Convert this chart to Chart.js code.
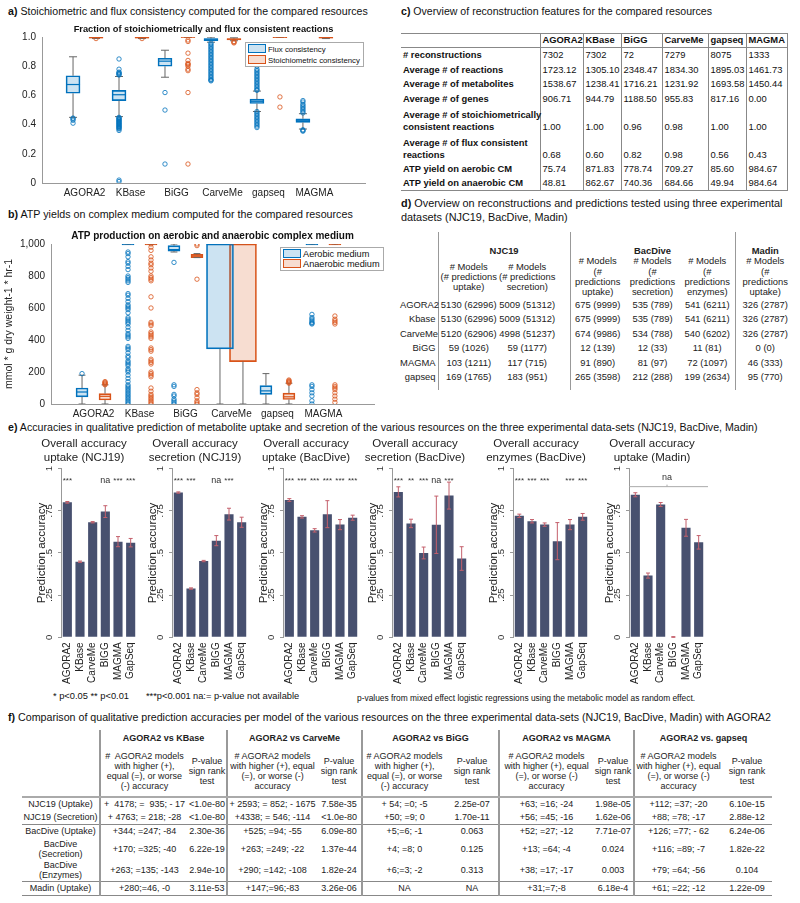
<!DOCTYPE html>
<html>
<head>
<meta charset="utf-8">
<script src="https://cdn.jsdelivr.net/npm/chart.js@4.4.0/dist/chart.umd.min.js"></script>
<style>
body{margin:0;width:800px;height:903px;position:relative;background:#fff;font-family:"Liberation Sans",Arial,sans-serif;color:#111;overflow:hidden}
canvas{position:absolute}
.pt{position:absolute;font-size:11px;line-height:13px;white-space:nowrap}
.lg{position:absolute;background:#fff;border:1px solid #aaa;font-size:8.5px;line-height:10px;padding:1px 3px 1px 2px;white-space:nowrap}
.lg span{display:inline-block;width:16px;height:7px;margin-right:2px;vertical-align:-1px}
.note{position:absolute;white-space:nowrap;font-size:9.3px}
table{position:absolute;border-collapse:collapse;table-layout:fixed}
#tc{left:401px;top:33px;width:386px;font-size:9.4px;line-height:12px;border-top:1px solid #888;border-bottom:1px solid #888}
#tc td{border-right:1px solid #888;padding:0 0 1px 2px;vertical-align:bottom;white-space:nowrap;overflow:visible}
#tc tr:first-child td{border-bottom:1px solid #888}
#td{left:400px;top:232px;width:395px;font-size:9.4px;line-height:10.3px;color:#222}
#td td{text-align:center;white-space:nowrap;padding:0;vertical-align:middle}
#td td.rh{text-align:right;padding-right:2px}
#td td.vl{border-left:1px solid #999}
#tf{left:22px;top:730px;width:750px;font-size:9px;line-height:10px;color:#222}
#tf td{text-align:center;white-space:nowrap;padding:0;vertical-align:middle}
#tf td.vl{border-left:2px solid #999}
#tf tr.hb td{border-bottom:2px solid #aaa}
#tf tr.sb td{border-bottom:1px solid #888}
</style>
</head>
<body>

<div class="pt" id="ta" data-right="368" style="left:8px;top:5px"><span><b>a)</b> Stoichiometric and flux consistency computed for the compared resources</span></div>
<div class="pt" id="tb" data-right="353" style="left:8px;top:208px"><span><b>b)</b> ATP yields on complex medium computed for the compared resources</span></div>
<div class="pt" id="tcT" data-right="712" style="left:401px;top:5px"><span><b>c)</b> Overview of reconstruction features for the compared resources</span></div>
<div class="pt" id="tdT" data-right="783" style="left:401px;top:196px;line-height:14px"><span><b>d)</b> Overview on reconstructions and predictions tested using three experimental</span><br>datasets (NJC19, BacDive, Madin)</div>
<div class="pt" id="te" data-right="758" style="left:8px;top:421px"><span><b>e)</b> Accuracies in qualitative prediction of metabolite uptake and secretion of the various resources on the three experimental data-sets (NJC19, BacDive, Madin)</span></div>
<div class="pt" id="tfT" data-right="772" style="left:8px;top:711px"><span><b>f)</b> Comparison of qualitative prediction accuracies per model of the various resources on the three experimental data-sets (NJC19, BacDive, Madin) with AGORA2</span></div>

<canvas id="chartA" width="400" height="181" style="left:0;top:22px"></canvas>
<canvas id="chartB" width="400" height="196" style="left:0;top:228px"></canvas>

<div class="lg" style="left:245px;top:42px;font-size:7.8px;line-height:9.5px">
  <div><span style="background:rgba(0,114,189,0.2);border:1px solid #0072bd"></span>Flux consistency</div>
  <div><span style="background:rgba(217,83,25,0.2);border:1px solid #d95319"></span>Stoichiometric consistency</div>
</div>
<div class="lg" style="left:280px;top:247px;font-size:9.2px;line-height:10px">
  <div><span style="background:rgba(0,114,189,0.2);border:1px solid #0072bd"></span>Aerobic medium</div>
  <div><span style="background:rgba(217,83,25,0.2);border:1px solid #d95319"></span>Anaerobic medium</div>
</div>

<table id="tc"></table>
<table id="td"></table>

<canvas id="e1" width="136" height="252" style="left:31px;top:437px"></canvas>
<canvas id="e2" width="136" height="252" style="left:142px;top:437px"></canvas>
<canvas id="e3" width="136" height="252" style="left:253px;top:437px"></canvas>
<canvas id="e4" width="136" height="252" style="left:362px;top:437px"></canvas>
<canvas id="e5" width="136" height="252" style="left:483px;top:437px"></canvas>
<canvas id="e6" width="136" height="252" style="left:599px;top:437px"></canvas>

<div class="note" style="left:53px;top:691px">* p&lt;0.05 ** p&lt;0.01</div>
<div class="note" style="left:146px;top:691px">***p&lt;0.001</div>
<div class="note" style="left:193px;top:691px">na:= p-value not available</div>
<div class="note" style="left:357px;top:693px;font-size:8.4px">p-values from mixed effect logistic regressions using the metabolic model as random effect.</div>

<table id="tf"></table>

<script>
// ---- panel a / b : box plot data ----
const resources = ['AGORA2', 'KBase', 'BiGG', 'CarveMe', 'gapseq', 'MAGMA'];

const fluxLo  = [0.45, 0.455, 0.725, 0.965, 0.49, 0.37];
const fluxQ1  = [0.615, 0.565, 0.80, 0.975, 0.545, 0.415];
const fluxMed = [0.675, 0.605, 0.835, 0.985, 0.56, 0.43];
const fluxQ3  = [0.735, 0.635, 0.855, 0.99, 0.575, 0.44];
const fluxHi  = [0.865, 0.73, 0.91, 1.0, 0.63, 0.475];
const fluxOut = [
  [0.41, 0.43, 0.44, 0.445],
  [0.01, 0.02, 0.36, 0.37, 0.375, 0.38, 0.385, 0.39, 0.395, 0.40, 0.405, 0.41, 0.415, 0.42, 0.425, 0.43, 0.435, 0.44, 0.445, 0.45, 0.74, 0.745, 0.75, 0.755, 0.76, 0.78, 0.85],
  [0.13, 0.50, 0.62],
  [0.70, 0.705, 0.71, 0.72, 0.73, 0.74, 0.75, 0.76, 0.77, 0.78, 0.79, 0.80, 0.81, 0.82, 0.83, 0.84, 0.85, 0.86, 0.87, 0.88, 0.89, 0.90, 0.91, 0.92, 0.93, 0.94, 0.95, 0.96],
  [0.38, 0.39, 0.40, 0.41, 0.42, 0.43, 0.44, 0.45, 0.46, 0.47, 0.48, 0.49, 0.635, 0.64, 0.65, 0.66, 0.67, 0.68, 0.69, 0.70, 0.71, 0.72, 0.73, 0.74, 0.75, 0.76, 0.77, 0.78, 0.80, 0.82, 0.84],
  [0.355, 0.36, 0.365, 0.48, 0.49, 0.50, 0.51, 0.52, 0.53, 0.54, 0.555, 0.565]
];

const stoLo  = [0.99, 0.99, 1.0, 0.975, 1.0, 0.99];
const stoQ1  = [0.993, 0.993, 0.997, 0.98, 0.996, 0.993];
const stoMed = [0.997, 0.997, 1.0, 0.985, 1.0, 0.997];
const stoQ3  = [1.0, 1.0, 1.0, 0.99, 1.0, 1.0];
const stoHi  = [1.0, 1.0, 1.0, 0.995, 1.0, 1.0];
const stoOut = [
  [0.99], [0.99],
  [0.13, 0.62, 0.77, 0.78, 0.80, 0.81, 0.815, 0.82, 0.84, 0.89, 0.97, 0.98],
  [0.96, 0.965, 0.97],
  [0.52, 0.59],
  []
];

const aerLo  = [0, 1000, 950, 0, 0, 1000];
const aerQ1  = [45, 994, 955, 345, 60, 994];
const aerMed = [75, 1000, 965, 1000, 82, 1000];
const aerQ3  = [100, 1000, 990, 1000, 115, 1000];
const aerHi  = [180, 1000, 1000, 1000, 190, 1000];
const aerOut = [
  [190],
  [0, 10, 20, 30, 40, 50, 60, 70, 80, 90, 100, 110, 120, 140, 160, 180, 200, 210, 220, 240, 250, 260, 270, 290, 300, 320, 340, 350, 360, 410, 420, 430, 440, 460, 480, 500, 510, 520, 530, 540, 570, 590, 600, 610, 620, 640, 660, 680, 690, 760, 770, 780, 790, 800, 840, 860, 880, 890, 920, 940, 950],
  [0, 10, 20, 30, 50, 60, 110, 120, 885],
  [],
  [],
  [0, 20, 50, 70, 90, 110, 120, 500, 505, 510, 520, 530, 540, 560]
];

const anaLo  = [0, 1000, 915, 0, 0, 1000];
const anaQ1  = [25, 994, 915, 265, 28, 994];
const anaMed = [48, 1000, 925, 1000, 45, 1000];
const anaQ3  = [65, 1000, 935, 1000, 68, 1000];
const anaHi  = [120, 1000, 940, 1000, 130, 1000];
const anaOut = [
  [120, 125, 130, 135, 140],
  [0, 10, 20, 30, 40, 50, 60, 80, 100, 170, 180, 190, 200, 250, 260, 270, 280, 330, 340, 350, 410, 420, 430, 440, 450, 490, 500, 510, 600, 670, 770, 780, 790, 800, 830, 850, 870, 880, 900, 920, 960, 980, 1000],
  [0, 10, 20, 40, 60, 70, 90, 780, 990, 1000],
  [],
  [130, 135, 140, 145, 150],
  [10, 30, 50, 70, 90, 100, 110, 120, 500, 510, 520, 530, 550]
];

// ---- panel e : accuracies ----
const accModels = ['AGORA2', 'KBase', 'CarveMe', 'BIGG', 'MAGMA', 'GapSeq'];
const accNjcUp   = [0.80, 0.448, 0.682, 0.745, 0.567, 0.561];
const errNjcUp   = [0.005, 0.004, 0.004, 0.035, 0.03, 0.025];
const sigNjcUp   = ['***', '', '', 'na', '***', '***'];
const accNjcSec  = [0.858, 0.289, 0.452, 0.573, 0.73, 0.682];
const errNjcSec  = [0.004, 0.004, 0.004, 0.03, 0.035, 0.03];
const sigNjcSec  = ['***', '***', '', 'na', '***', ''];
const accBacUp   = [0.814, 0.714, 0.634, 0.73, 0.668, 0.709];
const errBacUp   = [0.008, 0.007, 0.01, 0.08, 0.03, 0.015];
const sigBacUp   = ['***', '***', '***', '***', '***', '***'];
const accBacSec  = [0.862, 0.675, 0.50, 0.667, 0.84, 0.467];
const errBacSec  = [0.03, 0.025, 0.035, 0.17, 0.08, 0.07];
const sigBacSec  = ['***', '**', '***', 'na', '***', ''];
const accBacEnz  = [0.72, 0.688, 0.668, 0.57, 0.668, 0.714];
const errBacEnz  = [0.01, 0.01, 0.01, 0.11, 0.03, 0.02];
const sigBacEnz  = ['***', '***', '***', '', '***', '***'];
const accMadin   = [0.845, 0.366, 0.787, 0, 0.649, 0.563];
const errMadin   = [0.012, 0.015, 0.012, 0.004, 0.05, 0.04];
const sigMadin   = ['', '', '', '', '', ''];

// ---- tables ----
const tcHead = ['', 'AGORA2', 'KBase', 'BiGG', 'CarveMe', 'gapseq', 'MAGMA'];
const tcRows = [
  ['# reconstructions', '7302', '7302', '72', '7279', '8075', '1333'],
  ['Average # of reactions', '1723.12', '1305.10', '2348.47', '1834.30', '1895.03', '1461.73'],
  ['Average # of metabolites', '1538.67', '1238.41', '1716.21', '1231.92', '1693.58', '1450.44'],
  ['Average # of genes', '906.71', '944.79', '1188.50', '955.83', '817.16', '0.00'],
  ['Average # of stoichiometrically<br>consistent reactions', '1.00', '1.00', '0.96', '0.98', '1.00', '1.00'],
  ['Average # of flux consistent<br>reactions', '0.68', '0.60', '0.82', '0.98', '0.56', '0.43'],
  ['ATP yield on aerobic CM', '75.74', '871.83', '778.74', '709.27', '85.60', '984.67'],
  ['ATP yield on anaerobic CM', '48.81', '862.67', '740.36', '684.66', '49.94', '984.64']
];

const tdGroups = ['NJC19', 'BacDive', 'Madin'];
const tdSub = ['# Models<br>(# predictions<br>uptake)', '# Models<br>(# predictions<br>secretion)',
  '# Models<br>(#<br>predictions<br>uptake)', '# Models<br>(#<br>predictions<br>secretion)',
  '# Models<br>(#<br>predictions<br>enzymes)', '# Models<br>(#<br>predictions<br>uptake)'];
const tdRows = [
  ['AGORA2', '5130 (62996)', '5009 (51312)', '675 (9999)', '535 (789)', '541 (6211)', '326 (2787)'],
  ['Kbase', '5130 (62996)', '5009 (51312)', '675 (9999)', '535 (789)', '541 (6211)', '326 (2787)'],
  ['CarveMe', '5120 (62906)', '4998 (51237)', '674 (9986)', '534 (788)', '540 (6202)', '326 (2787)'],
  ['BiGG', '59 (1026)', '59 (1177)', '12 (139)', '12 (33)', '11 (81)', '0 (0)'],
  ['MAGMA', '103 (1211)', '117 (715)', '91 (890)', '81 (97)', '72 (1097)', '46 (333)'],
  ['gapseq', '169 (1765)', '183 (951)', '265 (3598)', '212 (288)', '199 (2634)', '95 (770)']
];

const tfGroups = ['AGORA2 vs KBase', 'AGORA2 vs CarveMe', 'AGORA2 vs BiGG', 'AGORA2 vs MAGMA', 'AGORA2 vs. gapseq'];
const tfCountHead = [
  '#&nbsp; AGORA2 models<br>with higher (+),<br>equal (=), or worse<br>(-) accuracy',
  '# AGORA2 models<br>with higher (+), equal<br>(=), or worse (-)<br>accuracy',
  '# AGORA2 models<br>with higher (+),<br>equal (=), or worse<br>(-) accuracy',
  '# AGORA2 models<br>with higher (+), equal<br>(=), or worse (-)<br>accuracy',
  '# AGORA2 models<br>with higher (+), equal<br>(=), or worse (-)<br>accuracy'];
const tfRows = [
  ['NJC19 (Uptake)', '+&nbsp; 4178; =&nbsp; 935; - 17', '&lt;1.0e-80', '+ 2593; = 852; - 1675', '7.58e-35', '+ 54; =0; -5', '2.25e-07', '+63; =16; -24', '1.98e-05', '+112; =37; -20', '6.10e-15'],
  ['NJC19 (Secretion)', '+ 4763; = 218; -28', '&lt;1.0e-80', '+4338; = 546; -114', '&lt;1.0e-80', '+50; =9; 0', '1.70e-11', '+56; =45; -16', '1.62e-06', '+88; =78; -17', '2.88e-12'],
  ['BacDive (Uptake)', '+344; =247; -84', '2.30e-36', '+525; =94; -55', '6.09e-80', '+5;=6; -1', '0.063', '+52; =27; -12', '7.71e-07', '+126; =77; - 62', '6.24e-06'],
  ['BacDive<br>(Secretion)', '+170; =325; -40', '6.22e-19', '+263; =249; -22', '1.37e-44', '+4; =8; 0', '0.125', '+13; =64; -4', '0.024', '+116; =89; -7', '1.82e-22'],
  ['BacDive<br>(Enzymes)', '+263; =135; -143', '2.94e-10', '+290; =142; -108', '1.82e-24', '+6;=3; -2', '0.313', '+38; =17; -17', '0.003', '+79; =64; -56', '0.104'],
  ['Madin (Uptake)', '+280;=46, -0', '3.11e-53', '+147;=96;-83', '3.26e-06', 'NA', 'NA', '+31;=7;-8', '6.18e-4', '+61; =22; -12', '1.22e-09']
];

// fit the panel headings to the width they take in the figure
document.querySelectorAll('.pt[data-right]').forEach(el => {
  const span = el.querySelector('span');
  const target = +el.dataset.right - el.offsetLeft;
  const size = 11 * target / span.getBoundingClientRect().width;
  el.style.fontSize = size.toFixed(2) + 'px';
});

// ---------- box plot helpers ----------
const BLUE = '#0072bd', ORANGE = '#d95319';
const BLUE_F = 'rgba(0,114,189,0.2)', ORANGE_F = 'rgba(217,83,25,0.2)';

function boxSets(lo, q1, med, q3, hi, out, shift, line, fill, thick, wideIdx) {
  const pos = lo.map((v, i) => 2 * i + 1 + shift);
  const whisk = [];
  pos.forEach((p, i) => {
    whisk.push({x: p, y: lo[i]}, {x: p, y: q1[i]}, {x: p, y: null},
               {x: p, y: q3[i]}, {x: p, y: hi[i]}, {x: p, y: null});
  });
  const outPts = [];
  out.forEach((arr, i) => arr.forEach(v => outPts.push({x: pos[i], y: v})));
  const boxData = (keep) => pos.map((p, i) => keep(i) ? {x: p, y: [q1[i], q3[i]]} : {x: p, y: null});
  const sets = [
    {type: 'bar', data: boxData(i => i !== wideIdx), backgroundColor: fill, borderColor: line,
     borderWidth: 1, barThickness: thick, grouped: false, borderSkipped: false, order: 6},
    {type: 'line', data: whisk, borderColor: '#666', borderWidth: 1, pointRadius: 0, spanGaps: false, order: 5},
    {type: 'scatter', data: pos.flatMap((p, i) => [{x: p, y: lo[i]}, {x: p, y: hi[i]}]),
     pointStyle: 'line', pointRadius: thick / 3.5, borderColor: '#666', borderWidth: 1, order: 4},
    {type: 'scatter', data: pos.map((p, i) => ({x: p, y: med[i]})), pointStyle: 'line',
     pointRadius: thick / 2, borderColor: line, borderWidth: 1.2, order: 1},
    {type: 'scatter', data: outPts, pointStyle: 'circle', pointRadius: 2.2, borderColor: line,
     backgroundColor: 'rgba(0,0,0,0)', borderWidth: 0.8, order: 2}
  ];
  if (wideIdx !== undefined) {
    sets.push({type: 'bar', data: boxData(i => i === wideIdx), backgroundColor: fill, borderColor: line,
      borderWidth: 1, barThickness: 27, grouped: false, borderSkipped: false, order: 6});
    sets.push({type: 'scatter', data: [{x: pos[wideIdx], y: med[wideIdx]}], pointStyle: 'line',
      pointRadius: 13.5, borderColor: line, borderWidth: 1.2, order: 1});
  }
  return sets;
}

function boxChart(id, title, titleSize, sets, yOpts, yWidth, padL, padR) {
  const catPos = resources.map((r, i) => 2 * i + 1.5);
  new Chart(document.getElementById(id), {
    type: 'bar',
    data: {datasets: sets},
    options: {
      animation: false, responsive: false, devicePixelRatio: 1,
      layout: {padding: {left: padL, right: padR, top: 0, bottom: 0}},
      plugins: {
        legend: {display: false}, tooltip: {enabled: false},
        title: {display: true, fullSize: false, text: title, color: '#111',
                font: {size: titleSize, weight: 'bold', family: 'Liberation Sans'},
                padding: {top: 2, bottom: 2}}
      },
      scales: {
        x: {
          type: 'linear', min: -0.35, max: 13.7, offset: false,
          grid: {display: false, drawTicks: false}, border: {display: true, color: '#999'},
          afterBuildTicks: s => { s.ticks = catPos.map(v => ({value: v})); },
          ticks: {autoSkip: false, maxRotation: 0, padding: 4, color: '#222',
                  font: {size: 10, family: 'Liberation Sans'},
                  callback: v => resources[catPos.indexOf(v)]},
          afterFit: s => { s.height = 20; }
        },
        y: Object.assign({
          grid: {display: false, drawTicks: false}, border: {display: true, color: '#999'},
          afterFit: s => { s.width = yWidth; }
        }, yOpts)
      }
    }
  });
}

boxChart('chartA', 'Fraction of stoichiometrically and flux consistent reactions', 9.25,
  boxSets(fluxLo, fluxQ1, fluxMed, fluxQ3, fluxHi, fluxOut, 0, BLUE, BLUE_F, 14)
    .concat(boxSets(stoLo, stoQ1, stoMed, stoQ3, stoHi, stoOut, 1, ORANGE, ORANGE_F, 14)),
  {min: 0, max: 1, ticks: {stepSize: 0.2, padding: 6, color: '#222', font: {size: 10, family: 'Liberation Sans'}}},
  30, 12, 35);

boxChart('chartB', 'ATP production on aerobic and anaerobic complex medium', 10,
  boxSets(aerLo, aerQ1, aerMed, aerQ3, aerHi, aerOut, 0, BLUE, BLUE_F, 12, 3)
    .concat(boxSets(anaLo, anaQ1, anaMed, anaQ3, anaHi, anaOut, 1, ORANGE, ORANGE_F, 12, 3)),
  {min: 0, max: 1000, ticks: {stepSize: 200, padding: 6, color: '#222', font: {size: 10, family: 'Liberation Sans'}},
   title: {display: true, text: 'mmol * g dry weight-1 * hr-1', color: '#222', font: {size: 10.5, family: 'Liberation Sans'},
           padding: {top: 3, bottom: 2}}},
  51, 0, 26);

// ---------- panel e ----------
const errorBars = {
  id: 'errorBars',
  afterDatasetsDraw(chart, args, o) {
    const {ctx, chartArea} = chart;
    const x = chart.scales.x, y = chart.scales.y;
    ctx.save();
    ctx.strokeStyle = '#c4606c';
    ctx.lineWidth = 1;
    o.vals.forEach((v, i) => {
      const px = x.getPixelForValue(i);
      const y1 = y.getPixelForValue(Math.max(0, v - o.errs[i]));
      const y2 = y.getPixelForValue(v + o.errs[i]);
      ctx.beginPath();
      ctx.moveTo(px, y1); ctx.lineTo(px, y2);
      ctx.moveTo(px - 2, y1); ctx.lineTo(px + 2, y1);
      ctx.moveTo(px - 2, y2); ctx.lineTo(px + 2, y2);
      ctx.stroke();
    });
    ctx.fillStyle = '#333';
    ctx.textAlign = 'center';
    ctx.textBaseline = 'middle';
    o.sig.forEach((s, i) => {
      if (!s) return;
      ctx.font = (s === 'na' ? '9px' : '8px') + ' "Liberation Sans"';
      ctx.fillText(s, x.getPixelForValue(i), y.getPixelForValue(0.93));
    });
    if (o.bracket) {
      const by = y.getPixelForValue(0.893);
      const cx = (chartArea.left + chartArea.right) / 2;
      ctx.strokeStyle = '#aaa';
      ctx.beginPath();
      ctx.moveTo(chartArea.left, by); ctx.lineTo(chartArea.right + 3, by);
      ctx.moveTo(cx, by); ctx.lineTo(cx, by - 2);
      ctx.stroke();
      ctx.font = '9px "Liberation Sans"';
      ctx.fillText(o.bracket, cx, y.getPixelForValue(0.95));
    }
    ctx.restore();
  }
};

function accChart(id, title, vals, errs, sig, bracket) {
  new Chart(document.getElementById(id), {
    type: 'bar',
    data: {labels: accModels, datasets: [{data: vals, backgroundColor: '#47506f', barPercentage: 0.72, categoryPercentage: 1}]},
    plugins: [errorBars],
    options: {
      animation: false, responsive: false, devicePixelRatio: 1,
      layout: {padding: {left: 0, right: 30, top: 0, bottom: 0}},
      plugins: {
        legend: {display: false}, tooltip: {enabled: false},
        title: {display: true, text: title, color: '#222', font: {size: 11.5, weight: 'normal', family: 'Liberation Sans'},
                lineHeight: 1.1, padding: {top: 0, bottom: 4}},
        errorBars: {vals: vals, errs: errs, sig: sig, bracket: bracket}
      },
      scales: {
        x: {
          grid: {display: false, drawTicks: false}, border: {display: false},
          ticks: {autoSkip: false, minRotation: 90, maxRotation: 90, padding: 5, color: '#222',
                  font: {size: 10, family: 'Liberation Sans'}}
        },
        y: {
          min: 0, max: 1,
          grid: {display: true, drawOnChartArea: false, drawTicks: true, tickLength: 3, color: '#999'},
          border: {display: true, color: '#999'},
          ticks: {stepSize: 0.25, minRotation: 90, maxRotation: 90, crossAlign: 'center', padding: 2,
                  color: '#333', font: {size: 9.5, family: 'Liberation Sans'},
                  callback: v => v === 0 || v === 1 ? String(v) : String(v).replace('0.', '.')},
          title: {display: true, text: 'Prediction accuracy', color: '#222', font: {size: 11.5, family: 'Liberation Sans'},
                  padding: {top: 4, bottom: 0}},
          afterFit: s => { s.width = 30; }
        }
      }
    }
  });
}

accChart('e1', ['Overall accuracy', 'uptake (NCJ19)'], accNjcUp, errNjcUp, sigNjcUp);
accChart('e2', ['Overall accuracy', 'secretion (NCJ19)'], accNjcSec, errNjcSec, sigNjcSec);
accChart('e3', ['Overall accuracy', 'uptake (BacDive)'], accBacUp, errBacUp, sigBacUp);
accChart('e4', ['Overall accuracy', 'secretion (BacDive)'], accBacSec, errBacSec, sigBacSec);
accChart('e5', ['Overall accuracy', 'enzymes (BacDive)'], accBacEnz, errBacEnz, sigBacEnz);
accChart('e6', ['Overall accuracy', 'uptake (Madin)'], accMadin, errMadin, sigMadin, 'na');

// ---------- tables ----------
function cols(widths) {
  return '<colgroup>' + widths.map(w => '<col style="width:' + w + 'px">').join('') + '</colgroup>';
}

// table c
let h = cols([139, 43, 38, 41, 46, 38, 41]);
h += '<tr style="height:12.5px">' + tcHead.map(t => '<td><b>' + t + '</b></td>').join('') + '</tr>';
tcRows.forEach(r => {
  const tall = r[0].indexOf('<br>') >= 0;
  h += '<tr style="height:' + (tall ? 28 : 14.5) + 'px">' +
       r.map((t, j) => '<td>' + (j === 0 ? '<b>' + t + '</b>' : t) + '</td>').join('') + '</tr>';
});
document.getElementById('tc').innerHTML = h;

// table d
h = cols([38, 61, 71, 55, 55, 55, 60]);
h += '<tr style="height:24px"><td></td>' +
     '<td colspan="2" class="vl" style="vertical-align:bottom;padding-bottom:0"><b>' + tdGroups[0] + '</b></td>' +
     '<td colspan="3" class="vl" style="vertical-align:bottom;padding-bottom:0"><b>' + tdGroups[1] + '</b></td>' +
     '<td class="vl" style="vertical-align:bottom;padding-bottom:0"><b>' + tdGroups[2] + '</b></td></tr>';
h += '<tr style="height:42px"><td></td>' + tdSub.map((t, j) =>
  '<td' + (j === 0 || j === 2 || j === 5 ? ' class="vl"' : '') + (j === 1 ? ' style="padding-right:14px"' : '') + '>' + t + '</td>').join('') + '</tr>';
tdRows.forEach(r => {
  h += '<tr style="height:14.4px">' + r.map((t, j) =>
    '<td class="' + (j === 0 ? 'rh' : (j === 1 || j === 3 || j === 6 ? 'vl' : '')) + '"' +
    (j === 2 ? ' style="padding-right:14px"' : '') + '>' + t + '</td>').join('') + '</tr>';
});
h += '<tr style="height:6px"><td></td><td class="vl" colspan="2"></td><td class="vl" colspan="3"></td><td class="vl"></td></tr>';
document.getElementById('td').innerHTML = h;

// table f
h = cols([78, 88, 39, 90, 45, 84, 53, 94, 41, 88, 50]);
h += '<tr style="height:16px"><td></td>' + tfGroups.map(g => '<td colspan="2" class="vl"><b>' + g + '</b></td>').join('') + '</tr>';
h += '<tr class="hb" style="height:51px"><td></td>' + tfCountHead.map(t =>
  '<td class="vl">' + t + '</td><td>P-value<br>sign rank<br>test</td>').join('') + '</tr>';
tfRows.forEach((r, k) => {
  const cls = (k === 1 || k === 4 || k === 5) ? ' class="sb"' : '';
  const ht = r[0].indexOf('<br>') >= 0 ? 22 : 13.5;
  h += '<tr' + cls + ' style="height:' + ht + 'px">' + r.map((t, j) =>
    '<td' + (j % 2 === 1 ? ' class="vl"' : '') + '>' + t + '</td>').join('') + '</tr>';
});
document.getElementById('tf').innerHTML = h;
</script>
</body>
</html>
